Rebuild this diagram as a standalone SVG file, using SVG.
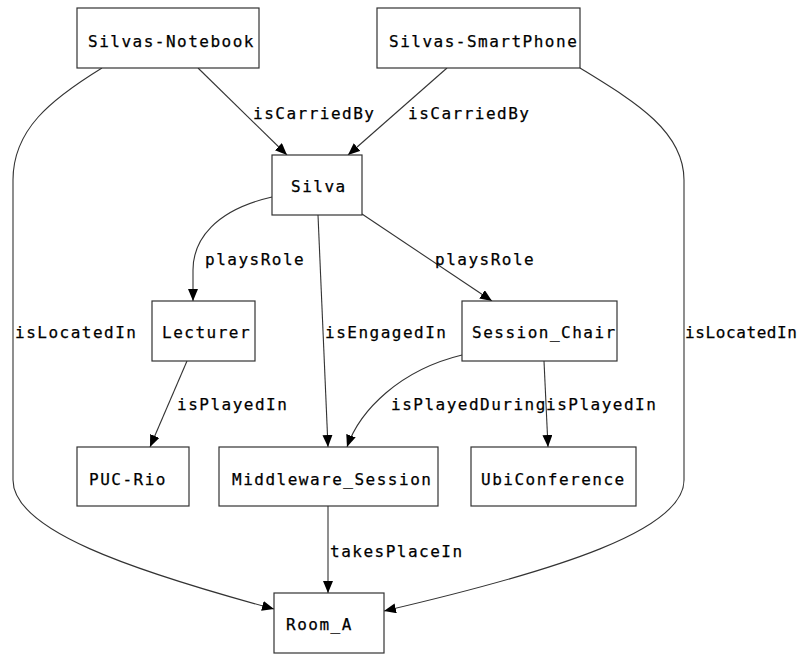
<svg xmlns="http://www.w3.org/2000/svg" width="800" height="654" viewBox="0 0 800 654">
<style>
.box{fill:#fff;stroke:#333;stroke-width:1.2}
.t{font-family:"DejaVu Sans Mono","Liberation Mono",monospace;font-size:16px;letter-spacing:1.5px;fill:#000;stroke:#000;stroke-width:0.25}
.e{fill:none;stroke:#333;stroke-width:1.1;marker-end:url(#arr)}
</style>
<defs>
<marker id="arr" markerUnits="userSpaceOnUse" markerWidth="14" markerHeight="12" refX="12" refY="5" orient="auto">
<path d="M0,0 L12,5 L0,10 z" fill="#000"/>
</marker>
</defs>
<rect width="800" height="654" fill="#fff"/>
<g id="edges">
<path class="e" d="M198,68 L287,155"/>
<text class="t" x="253" y="119">isCarriedBy</text>
<path class="e" d="M447,68 L348,155"/>
<text class="t" x="408" y="119">isCarriedBy</text>
<path class="e" d="M102,68 C50,100 13,130 13,180 L13,480 C13,530 130,570 274,609"/>
<text class="t" x="15" y="338">isLocatedIn</text>
<path class="e" d="M580,68 C632,100 684,130 684,180 L684,480 C684,530 560,570 384,611"/>
<text class="t" x="685" y="338" style="letter-spacing:0.6px">isLocatedIn</text>
<path class="e" d="M272,197 C215,210 193,240 193,270 L193,301"/>
<text class="t" x="205" y="265">playsRole</text>
<path class="e" d="M362,214 L492,301"/>
<text class="t" x="435" y="265">playsRole</text>
<path class="e" d="M318,215 L328,447"/>
<text class="t" x="325" y="338">isEngagedIn</text>
<path class="e" d="M187,361 L150,447"/>
<text class="t" x="177" y="410">isPlayedIn</text>
<path class="e" d="M462,355 C400,370 360,410 347,447"/>
<text class="t" x="391" y="410">isPlayedDuring</text>
<path class="e" d="M544,361 L548,447"/>
<text class="t" x="546" y="410">isPlayedIn</text>
<path class="e" d="M328,506 L328,593"/>
<text class="t" x="330" y="557">takesPlaceIn</text>
</g>
<g id="Silvas-Notebook"><rect class="box" x="77" y="8" width="182" height="60"/><text class="t" x="88" y="47">Silvas-Notebook</text></g>
<g id="Silvas-SmartPhone"><rect class="box" x="377" y="8" width="203" height="60"/><text class="t" x="389" y="47">Silvas-SmartPhone</text></g>
<g id="Silva"><rect class="box" x="272" y="155" width="90" height="60"/><text class="t" x="291" y="192">Silva</text></g>
<g id="Lecturer"><rect class="box" x="152" y="301" width="103" height="60"/><text class="t" x="162" y="338">Lecturer</text></g>
<g id="Session_Chair"><rect class="box" x="462" y="301" width="155" height="60"/><text class="t" x="472" y="338">Session_Chair</text></g>
<g id="PUC-Rio"><rect class="box" x="77" y="447" width="112" height="59"/><text class="t" x="89" y="485">PUC-Rio</text></g>
<g id="Middleware_Session"><rect class="box" x="219" y="447" width="219" height="59"/><text class="t" x="232" y="485">Middleware_Session</text></g>
<g id="UbiConference"><rect class="box" x="471" y="447" width="165" height="59"/><text class="t" x="481" y="485">UbiConference</text></g>
<g id="Room_A"><rect class="box" x="274" y="593" width="110" height="60"/><text class="t" x="286" y="630">Room_A</text></g>
</svg>
